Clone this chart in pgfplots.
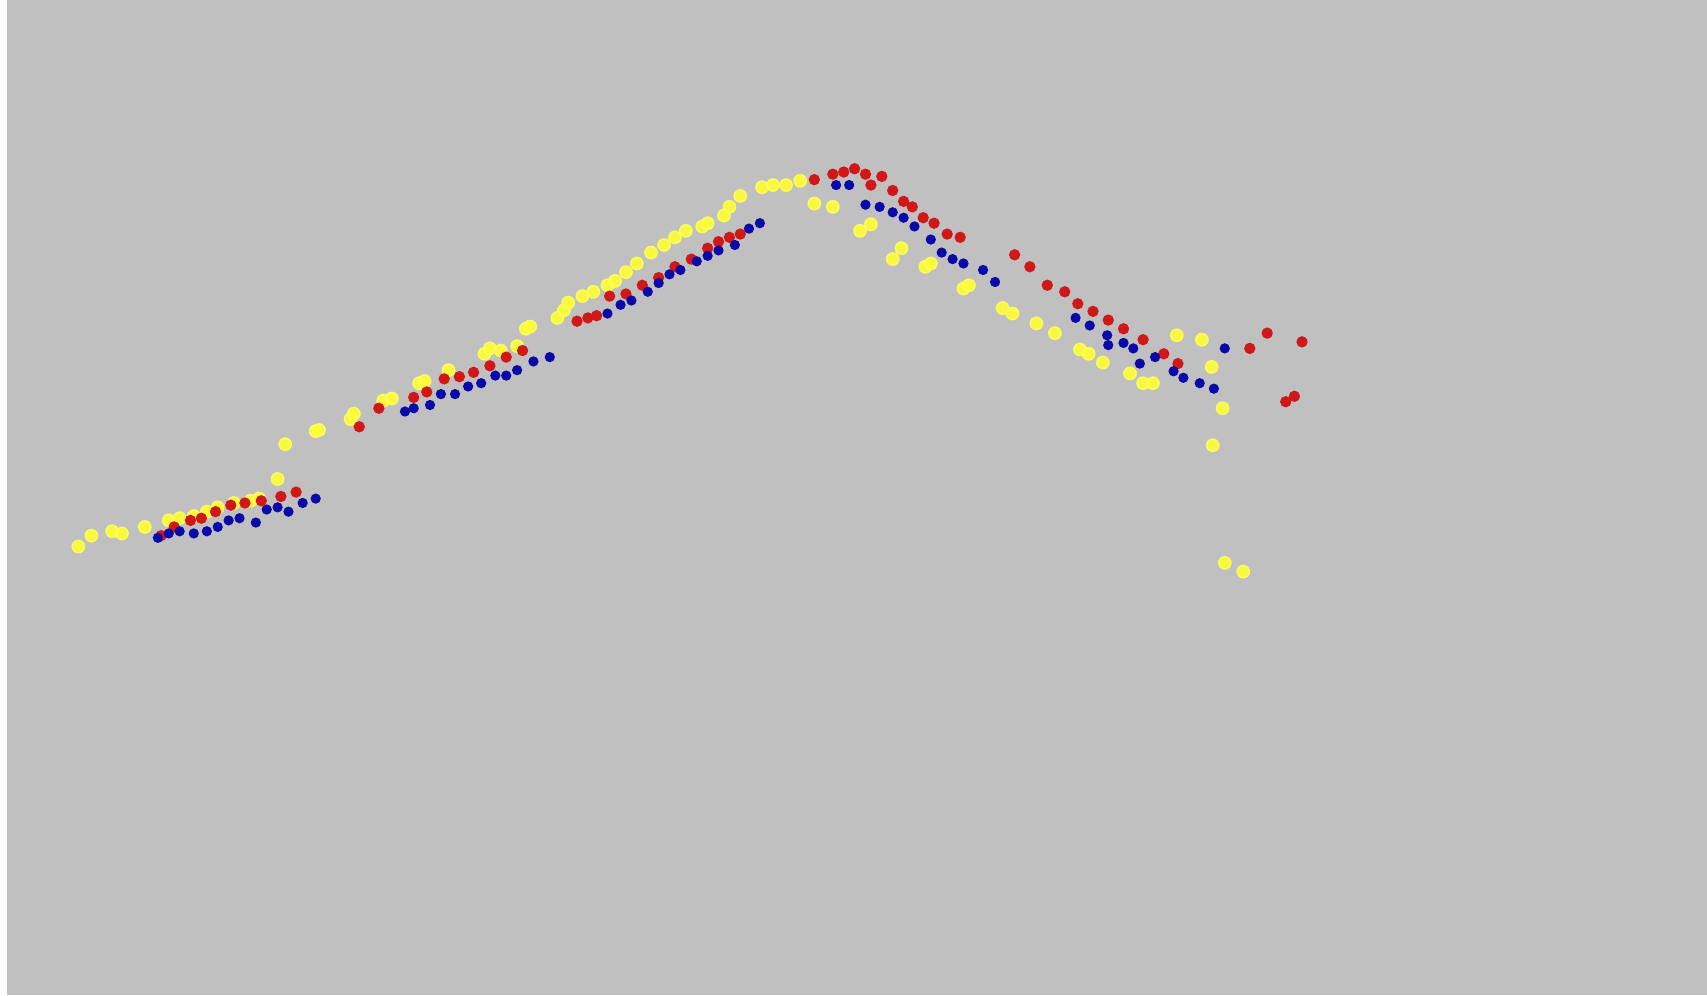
\documentclass[border=0pt]{standalone}
\usepackage{pgfplots}
\pgfplotsset{compat=1.18}
\definecolor{bg}{HTML}{C0C0C0}
\definecolor{cy}{HTML}{FFFF33}
\definecolor{cr}{HTML}{D01818}
\definecolor{cb}{HTML}{0A0AA8}
\begin{document}
\begin{tikzpicture}
\begin{axis}[
  scale only axis, width=470.4pt, height=274.2pt,
  xmin=0, xmax=1568, ymin=0, ymax=914, y dir=reverse,
  axis lines=none, clip=true,
]
\fill[white] (axis cs:0,0) rectangle (axis cs:1568,914);
\fill[bg] (axis cs:6.4,0) rectangle (axis cs:1568,914);
% yellow
\addplot[only marks, mark=*, mark size=1.7pt, mark options={draw=cy!80!white, fill=cy, opacity=0.9}] coordinates {
(72,502) (84,492) (103,488) (112,490) (133,484) (155,478) (165,476) (178,474) (190,470) (200,466) (215,462) (230,460) (238,458) (255,440) (262,408) (290,396) (293,395) (322,385) (325,380) (352,368) (360,366) (385,352) (390,350) (412,340) (445,325) (450,320) (460,322) (475,318) (483,302) (487,300) (512,292) (518,285) (522,278) (535,272) (545,268) (558,262) (565,258) (575,250) (585,242) (598,232) (610,225) (620,218) (630,212) (645,208) (650,205) (665,198) (670,190) (680,180) (700,172) (710,170) (722,170) (735,166) (748,187) (765,190) (790,212) (800,206) (820,238) (828,228) (850,245) (855,242) (885,265) (890,262) (921,283) (930,288) (952,297) (969,306) (992,321) (1000,325) (1013,333) (1038,343) (1050,352) (1059,352) (1081,308) (1104,312) (1113,337) (1123,375) (1114,409) (1125,517) (1142,525)
};
% red
\addplot[only marks, mark=*, mark size=1.35pt, mark options={draw=cr, fill=cr}] coordinates {
(148,492) (160,484) (175,478) (185,476) (198,470) (212,464) (225,462) (240,460) (258,456) (272,452) (330,392) (348,375) (380,365) (392,360) (408,348) (422,346) (435,342) (450,336) (465,328) (480,322) (530,295) (540,292) (548,290) (560,272) (575,270) (590,262) (605,255) (620,245) (635,238) (650,228) (660,222) (670,218) (680,215) (748,165) (765,160) (775,158) (785,155) (795,160) (800,170) (810,162) (820,175) (830,185) (838,190) (848,200) (858,205) (870,215) (882,218) (932,234) (946,245) (962,262) (978,268) (990,279) (1004,286) (1018,294) (1032,302) (1050,312) (1069,325) (1082,334) (1148,320) (1164,306) (1196,314) (1181,369) (1189,364)
};
% blue
\addplot[only marks, mark=*, mark size=1.2pt, mark options={draw=cb, fill=cb}] coordinates {
(145,494) (155,490) (165,488) (178,490) (190,488) (200,484) (210,478) (220,476) (235,480) (245,468) (255,466) (265,470) (278,462) (290,458) (372,378) (380,375) (395,372) (405,362) (418,362) (430,355) (442,352) (455,345) (465,345) (475,340) (490,332) (505,328) (558,288) (570,280) (580,276) (595,268) (605,260) (615,252) (625,248) (640,240) (650,235) (660,230) (675,225) (688,210) (698,205) (768,170) (780,170) (795,188) (808,190) (820,195) (830,200) (840,208) (855,220) (865,232) (875,238) (885,242) (903,248) (914,259) (988,292) (1001,299) (1017,308) (1018,317) (1032,315) (1041,320) (1047,334) (1061,328) (1078,341) (1087,347) (1102,352) (1115,357) (1125,320)
};
\end{axis}
\end{tikzpicture}
\end{document}
